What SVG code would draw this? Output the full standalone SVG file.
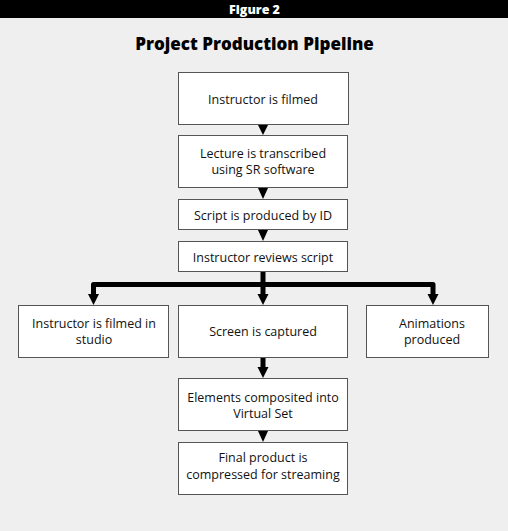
<svg xmlns="http://www.w3.org/2000/svg" width="508" height="531" viewBox="0 0 508 531">
<style>
.box{fill:#ffffff;stroke:#555555;stroke-width:1}
.t{font-family:"Open Sans","Liberation Sans",sans-serif;font-size:12.5px;fill:#111111;text-anchor:middle}
.thick{fill:none;stroke:#000000;stroke-width:5;stroke-linejoin:round;stroke-linecap:butt}
.head{fill:#000000}
</style>
<rect x="0" y="0" width="508" height="531" fill="#efefef"/>
<rect x="0" y="0" width="508" height="18" fill="#000000"/>
<text x="254.5" y="13.5" font-family="'Open Sans','Liberation Sans',sans-serif" font-size="12.5" font-weight="800" fill="#ffffff" text-anchor="middle">Figure 2</text>
<text x="254.5" y="49.5" font-family="'Open Sans','Liberation Sans',sans-serif" font-size="17" font-weight="800" fill="#000000" text-anchor="middle">Project Production Pipeline</text>

<g id="connectors">
  <polygon class="head" points="258,125 268,125 263,135"/>
  <polygon class="head" points="258,188 268,188 263,199"/>
  <polygon class="head" points="258,230 268,230 263,241"/>
  <path class="thick" d="M263,272 V295"/>
  <path class="thick" d="M93.5,295 V284.5 H433 V295"/>
  <polygon class="head" points="257.5,294 268.5,294 263,305"/>
  <polygon class="head" points="88,294 99,294 93.5,305"/>
  <polygon class="head" points="427.5,294 438.5,294 433,305"/>
  <path class="thick" d="M263,357 V368"/>
  <polygon class="head" points="257.5,367 268.5,367 263,378"/>
  <polygon class="head" points="258,431 268,431 263,442"/>
</g>

<g id="n1"><rect class="box" x="178.5" y="72.5" width="170" height="52"/><text class="t" x="263" y="104">Instructor is filmed</text></g>
<g id="n2"><rect class="box" x="178.5" y="135.5" width="169" height="52"/><text class="t" x="263" y="158">Lecture is transcribed</text><text class="t" x="263" y="174">using SR software</text></g>
<g id="n3"><rect class="box" x="178.5" y="199.5" width="169" height="30"/><text class="t" x="263" y="220">Script is produced by ID</text></g>
<g id="n4"><rect class="box" x="178.5" y="241.5" width="169" height="30"/><text class="t" x="263" y="262">Instructor reviews script</text></g>
<g id="n5"><rect class="box" x="18.5" y="305.5" width="150" height="52"/><text class="t" x="94" y="328">Instructor is filmed in</text><text class="t" x="94" y="344">studio</text></g>
<g id="n6"><rect class="box" x="178.5" y="305.5" width="169" height="52"/><text class="t" x="263" y="336">Screen is captured</text></g>
<g id="n7"><rect class="box" x="366.5" y="305.5" width="122" height="52"/><text class="t" x="432" y="328">Animations</text><text class="t" x="432" y="344">produced</text></g>
<g id="n8"><rect class="box" x="178.5" y="378.5" width="169" height="52"/><text class="t" x="263" y="402">Elements composited into</text><text class="t" x="263" y="418">Virtual Set</text></g>
<g id="n9"><rect class="box" x="178.5" y="442.5" width="169" height="52"/><text class="t" x="263" y="462">Final product is</text><text class="t" x="263" y="479">compressed for streaming</text></g>
</svg>
